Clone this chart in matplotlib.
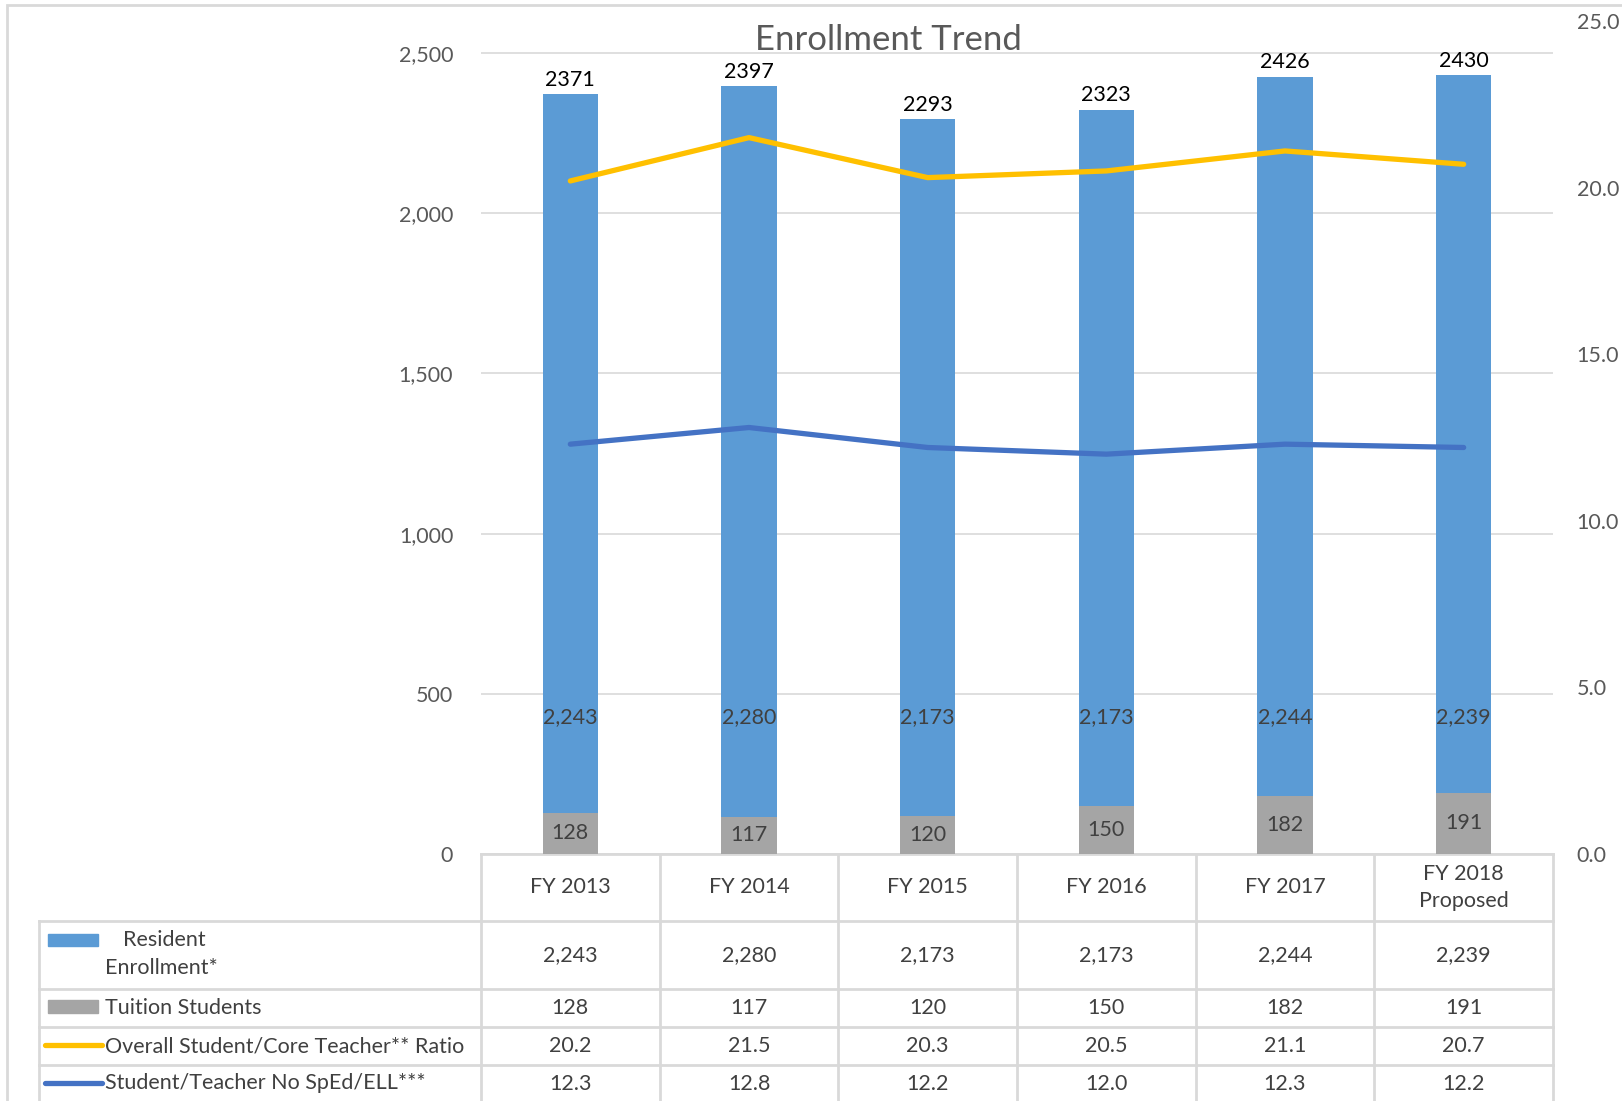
import matplotlib.pyplot as plt
import matplotlib.patches as mpatches
import matplotlib.lines as mlines
import numpy as np

plt.rcParams['font.family'] = ['Lato', 'DejaVu Sans']

years = ['FY 2013', 'FY 2014', 'FY 2015', 'FY 2016', 'FY 2017', 'FY 2018\nProposed']
resident = [2243, 2280, 2173, 2173, 2244, 2239]
tuition = [128, 117, 120, 150, 182, 191]
overall_ratio = [20.2, 21.5, 20.3, 20.5, 21.1, 20.7]
no_sped_ratio = [12.3, 12.8, 12.2, 12.0, 12.3, 12.2]

BLUE = '#5B9BD5'
GRAY = '#A5A5A5'
GOLD = '#FFC000'
LINEBLUE = '#4472C4'
GRID = '#D9D9D9'
TXT = '#404040'
AXTXT = '#595959'
FS = 15.5

W, H = 1622, 1101
fig = plt.figure(figsize=(W / 100, H / 100), dpi=100)

# plot area in pixels: left 481, right 1553, top 21, bottom 854
ax = fig.add_axes([481 / W, 1 - 854 / H, (1553 - 481) / W, (854 - 21) / H])
ax2 = ax.twinx()

x = np.arange(len(years))
totals = [r + t for r, t in zip(resident, tuition)]

ax.bar(x, tuition, width=0.31, color=GRAY, zorder=2)
ax.bar(x, resident, width=0.31, bottom=tuition, color=BLUE, zorder=2)

for xi, t in zip(x, tuition):
    ax.text(xi, t / 2, f'{t:,}', ha='center', va='center', fontsize=FS, color=TXT, zorder=3)
for xi, r in zip(x, resident):
    ax.text(xi, 428, f'{r:,}', ha='center', va='center', fontsize=FS, color=TXT, zorder=3)
for xi, tot in zip(x, totals):
    ax.annotate(str(tot), (xi, tot), xytext=(0, 6), textcoords='offset points',
                ha='center', va='baseline', fontsize=FS, color='black')

ax.set_xlim(-0.5, len(years) - 0.5)
ax.set_ylim(0, 2600)
ax.set_yticks(range(0, 2501, 500))
ax.yaxis.set_major_formatter(plt.FuncFormatter(lambda v, p: f'{int(v):,}'))
ax.grid(axis='y', color=GRID, linewidth=1.2, zorder=0)
ax.set_axisbelow(True)
ax.set_xticks([])
ax.tick_params(axis='y', length=0, pad=20, labelsize=FS, labelcolor=AXTXT)

ax2.plot(x, overall_ratio, color=GOLD, linewidth=3.8, solid_capstyle='round', zorder=4)
ax2.plot(x, no_sped_ratio, color=LINEBLUE, linewidth=3.8, solid_capstyle='round', zorder=4)
ax2.set_ylim(0, 25)
ax2.set_yticks(range(0, 26, 5))
ax2.yaxis.set_major_formatter(plt.FuncFormatter(lambda v, p: f'{v:.1f}'))
ax2.tick_params(axis='y', length=0, pad=17, labelsize=FS, labelcolor=AXTXT)

for a in (ax, ax2):
    for s in a.spines.values():
        s.set_visible(False)

# data table under the plot
row_y = [0, -0.0804, -0.162, -0.2077, -0.2533, -0.30]
lab_left = -0.4123
xt = ax.get_xaxis_transform()
tt = ax.transAxes
lkw = dict(color=GRID, linewidth=2, clip_on=False, zorder=1)

bounds = np.arange(len(years) + 1) - 0.5
for b in bounds:
    ax.add_line(mlines.Line2D([b, b], [row_y[0], row_y[-1] - 0.02], transform=xt, **lkw))
for y in row_y[:-1]:
    ax.add_line(mlines.Line2D([bounds[0], bounds[-1]], [y, y], transform=xt, **lkw))
for y in row_y[1:-1]:
    ax.add_line(mlines.Line2D([lab_left, 0], [y, y], transform=tt, **lkw))
ax.add_line(mlines.Line2D([lab_left, lab_left], [row_y[1], row_y[-1] - 0.02], transform=tt, **lkw))

def mid(i):
    return (row_y[i] + row_y[i + 1]) / 2

rows = [
    [f'{v:,}' for v in resident],
    [f'{v:,}' for v in tuition],
    [f'{v:.1f}' for v in overall_ratio],
    [f'{v:.1f}' for v in no_sped_ratio],
]
for xi, yr in zip(x, years):
    ax.text(xi, mid(0), yr, transform=xt, ha='center', va='center', fontsize=FS,
            color=TXT, linespacing=1.45, clip_on=False)
for ri, vals in enumerate(rows):
    for xi, v in zip(x, vals):
        ax.text(xi, mid(ri + 1), v, transform=xt, ha='center', va='center',
                fontsize=FS, color=TXT, clip_on=False)

# legend keys and row labels
ax.add_patch(mpatches.Rectangle((-0.4039, -0.1104), 0.0466, 0.0144, transform=tt,
                                color=BLUE, clip_on=False))
ax.text(-0.334, -0.1032, 'Resident', transform=tt, ha='left', va='center',
        fontsize=FS, color=TXT)
ax.text(-0.3507, -0.1369, 'Enrollment*', transform=tt, ha='left', va='center',
        fontsize=FS, color=TXT)
ax.add_patch(mpatches.Rectangle((-0.4039, -0.1909), 0.0466, 0.0156, transform=tt,
                                color=GRAY, clip_on=False))
ax.text(-0.3507, -0.1849, 'Tuition Students', transform=tt, ha='left', va='center',
        fontsize=FS, color=TXT)
ax.add_line(mlines.Line2D([-0.4067, -0.3535], [-0.2293, -0.2293], transform=tt, color=GOLD,
                          linewidth=3.8, solid_capstyle='round', clip_on=False))
ax.text(-0.3507, -0.2305, 'Overall Student/Core Teacher** Ratio', transform=tt,
        ha='left', va='center', fontsize=FS, color=TXT)
ax.add_line(mlines.Line2D([-0.4067, -0.3535], [-0.2749, -0.2749], transform=tt, color=LINEBLUE,
                          linewidth=3.8, solid_capstyle='round', clip_on=False))
ax.text(-0.3507, -0.2749, 'Student/Teacher No SpEd/ELL***', transform=tt,
        ha='left', va='center', fontsize=FS, color=TXT)

fig.text(888 / W, 1 - 40 / H, 'Enrollment Trend', ha='center', va='center',
         fontsize=25, color=AXTXT)

# chart frame
fig.add_artist(mpatches.Rectangle((7 / W, -0.05), 1.2, 1 - 5 / H + 0.05,
                                  transform=fig.transFigure, fill=False,
                                  edgecolor=GRID, linewidth=2))

fig.savefig('out.png', dpi=100)
